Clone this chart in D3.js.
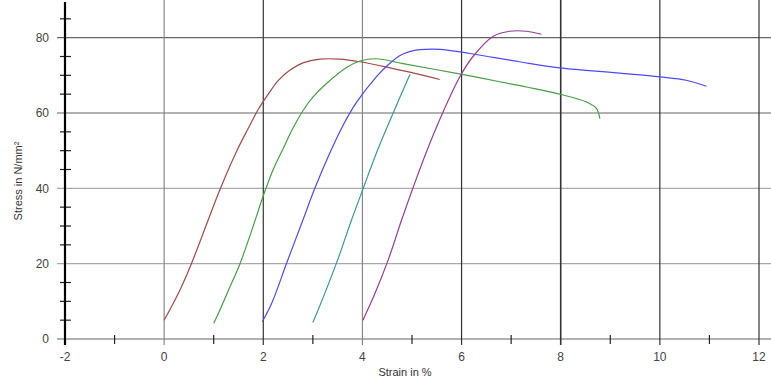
<!DOCTYPE html>
<html>
<head>
<meta charset="utf-8">
<script src="https://cdn.jsdelivr.net/npm/d3@7"></script>
<style>
  body { margin: 0; background: #fff; }
  svg { display: block; font-family: "Liberation Sans", Arial, sans-serif; }
</style>
</head>
<body>
<svg id="chart" width="771" height="386"></svg>
<script>
// stress-strain curves: [strain %, stress N/mm2]
const specimen1 = [[0,5],[0.3,12.5],[0.55,20],[0.9,32],[1.12,39.5],[1.46,49.8],[1.7,56],[1.9,61],[2.1,65],[2.3,68.6],[2.54,71.4],[2.8,73.3],[3.14,74.3],[3.54,74.3],[3.95,73.6],[4.62,71.8],[5.1,70.4],[5.56,68.9]];
const specimen2 = [[1.0,4.2],[1.1,7],[1.3,13],[1.53,20],[1.83,31.3],[1.97,36.9],[2.2,45],[2.4,50.5],[2.6,56],[2.8,60.6],[3.0,64.2],[3.28,67.9],[3.68,72.1],[3.95,73.8],[4.28,74.4],[4.82,73.1],[5.9,70.5],[6.77,68.3],[7.98,65.0],[8.52,62.9],[8.72,61.2],[8.79,58.5]];
const specimen3 = [[1.98,4.6],[2.17,9.5],[2.47,20.1],[2.8,31.6],[3.04,40],[3.34,49.3],[3.6,56.5],[3.88,62.8],[4.28,69.6],[4.52,72.8],[4.75,75.2],[4.95,76.3],[5.16,76.8],[5.56,76.9],[6.17,75.8],[7.17,73.6],[7.98,72.0],[9.19,70.6],[10.0,69.6],[10.53,68.7],[10.94,67.1]];
const specimen4 = [[3.0,4.4],[3.1,7.5],[3.5,21],[3.78,31.6],[4.03,40.5],[4.3,50],[4.62,60],[4.96,70.3]];
const specimen5 = [[4.01,5.0],[4.25,12],[4.52,21],[4.79,31.6],[5.03,40.5],[5.3,50],[5.6,59.5],[5.96,69.5],[6.23,75],[6.64,80.4],[6.97,81.7],[7.31,81.7],[7.61,80.9]];

const curves = [specimen1, specimen2, specimen3, specimen4, specimen5];
const curveColors = ['#a24a46', '#45a045', '#4a4aff', '#3c9898', '#933f93'];

const xTicks = [-2, 0, 2, 4, 6, 8, 10, 12];
const xMinor = [-1, 1, 3, 5, 7, 9, 11];
const yTicks = [0, 20, 40, 60, 80];
const yMinor = [5, 10, 15, 25, 30, 35, 45, 50, 55, 65, 70, 75, 85];

const svg = d3.select('#chart');

const x = d3.scaleLinear().domain([-2, 12]).range([65, 759]);
const y = d3.scaleLinear().domain([0, 90]).range([339, 0]);

// horizontal grid
svg.append('g').selectAll('line')
  .data(yTicks)
  .join('line')
  .attr('x1', 57).attr('x2', 771)
  .attr('y1', d => y(d)).attr('y2', d => y(d))
  .attr('stroke', d => d == 0 ? '#999' : (d == 20 || d == 40 ? '#aaa' : '#666'))
  .attr('stroke-width', d => d == 0 ? 1.5 : 1.2);

// vertical grid
svg.append('g').selectAll('line')
  .data(xTicks.filter(d => d > -2))
  .join('line')
  .attr('x1', d => x(d)).attr('x2', d => x(d))
  .attr('y1', 0).attr('y2', 345)
  .attr('stroke', d => (d == 0 || d == 4) ? '#888' : '#333')
  .attr('stroke-width', d => d == 8 ? 1.6 : 1.2);

// minor x ticks
svg.append('g').selectAll('line')
  .data(xMinor)
  .join('line')
  .attr('x1', d => x(d)).attr('x2', d => x(d))
  .attr('y1', 335).attr('y2', 344)
  .attr('stroke', '#222')
  .attr('stroke-width', 1.2);

// minor y ticks
svg.append('g').selectAll('line')
  .data(yMinor)
  .join('line')
  .attr('x1', 60).attr('x2', 71)
  .attr('y1', d => y(d)).attr('y2', d => y(d))
  .attr('stroke', '#222')
  .attr('stroke-width', 1.2);

// left axis line
svg.append('line')
  .attr('x1', x(-2)).attr('x2', x(-2))
  .attr('y1', 2).attr('y2', 345)
  .attr('stroke', '#000')
  .attr('stroke-width', 2.2);

// tick labels
svg.append('g').selectAll('text')
  .data(yTicks)
  .join('text')
  .attr('x', 49)
  .attr('y', d => y(d))
  .attr('dy', '0.36em')
  .attr('text-anchor', 'end')
  .attr('font-size', '12px')
  .attr('fill', '#444')
  .text(d => d);

svg.append('g').selectAll('text')
  .data(xTicks)
  .join('text')
  .attr('x', d => x(d))
  .attr('y', 361)
  .attr('text-anchor', 'middle')
  .attr('font-size', '12px')
  .attr('fill', '#444')
  .text(d => d);

// axis titles
svg.append('text')
  .attr('x', 405).attr('y', 376)
  .attr('text-anchor', 'middle')
  .attr('font-size', '11px')
  .attr('fill', '#333')
  .text('Strain in %');

svg.append('text')
  .attr('transform', 'translate(22,181) rotate(-90)')
  .attr('text-anchor', 'middle')
  .attr('font-size', '11px')
  .attr('fill', '#333')
  .text('Stress in N/mm²');

// curves
const line = d3.line()
  .x(d => x(d[0]))
  .y(d => y(d[1]))
  .curve(d3.curveCatmullRom.alpha(0.5));

svg.append('g').selectAll('path')
  .data(curves)
  .join('path')
  .attr('d', line)
  .attr('fill', 'none')
  .attr('stroke', (d, i) => curveColors[i])
  .attr('stroke-width', 1.2);
</script>
</body>
</html>
